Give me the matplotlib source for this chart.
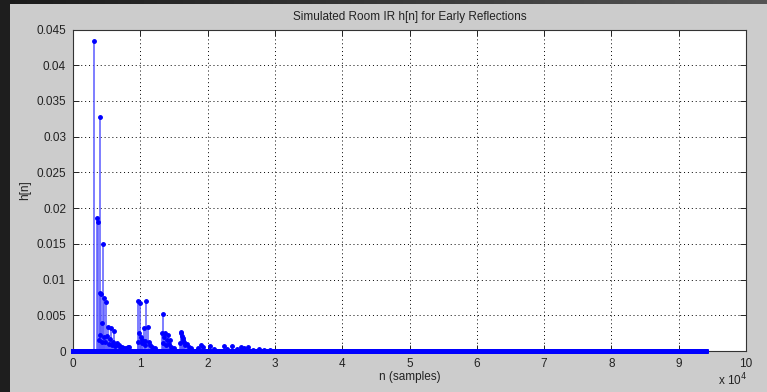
import numpy as np
import matplotlib.pyplot as plt

# impulse response length (samples) and the early reflections (sample index, amplitude)
n_len = 94000
refl_n = [3120, 3120, 3566, 3566, 3670, 4012, 4057, 4200, 4260, 4458, 4651, 4651,
          4903, 5150, 5150, 5646, 5646, 6140, 6140, 6600, 6900, 7300, 8130, 8260,
          3800, 3950, 4350, 4550, 4800, 5000, 5300, 5450, 5800, 5950, 6300, 6450, 7000, 7600, 7900,
          9610, 9610, 9955, 9955, 10500, 10900, 11100, 11100, 10200, 10050,
          9700, 9800, 10300, 10650, 10750, 11300, 11500, 11800, 12200,
          13180, 13370, 13670, 14070, 14370, 13900,
          13300, 13500, 13800, 14200, 14600, 15000,
          16050, 16000, 16300, 16500, 16700, 17200,
          15850, 16150, 16400, 16900, 17500,
          19020, 19300, 20400, 22480, 23580, 24960, 26050, 27690, 29200,
          18600, 21000, 22900, 24300, 25400, 26800, 28400]
refl_h = [0.04337, 0.02148, 0.01863, 0.0092, 0.01799, 0.0328, 0.00815, 0.0080, 0.00387, 0.01495,
          0.00736, 0.0036, 0.00689, 0.0034, 0.00154, 0.00317, 0.0015, 0.0028, 0.0014, 0.0011,
          0.0008, 0.0006, 0.0006, 0.0005,
          0.0016, 0.0022, 0.0012, 0.0019, 0.0013, 0.0021, 0.0010, 0.0017, 0.0009, 0.0012, 0.0007, 0.0009, 0.0006, 0.0004, 0.0004,
          0.00699, 0.0033, 0.00667, 0.0032, 0.00326, 0.00699, 0.0034, 0.0020, 0.0015, 0.0020,
          0.0012, 0.0025, 0.0011, 0.0014, 0.0009, 0.0012, 0.0008, 0.0006, 0.0004,
          0.00256, 0.00517, 0.0025, 0.00224, 0.0015, 0.0015,
          0.0011, 0.0019, 0.0009, 0.0010, 0.0006, 0.0004,
          0.0027, 0.0025, 0.00177, 0.0013, 0.0008, 0.0005,
          0.0011, 0.0021, 0.0016, 0.0010, 0.0004,
          0.00084, 0.0005, 0.0007, 0.0007, 0.0007, 0.0005, 0.0006, 0.0003, 0.0002,
          0.0004, 0.0003, 0.0003, 0.0003, 0.0004, 0.0002, 0.0002]

h = np.zeros(n_len)
for k, v in zip(refl_n, refl_h):
    h[k] = max(h[k], v)
n = np.arange(n_len)

plt.rcParams['font.family'] = ['Liberation Sans', 'DejaVu Sans']
fig = plt.figure(figsize=(7.67, 3.92), dpi=100, facecolor='#cccccc')

# dark window frame strips
frame = fig.add_axes([0, 0, 1, 1], zorder=-1)
frame.set_xlim(0, 767)
frame.set_ylim(392, 0)
frame.axis('off')
frame.add_patch(plt.Rectangle((0, 0), 10, 392, color='#1e1e1e', lw=0))
grad = np.linspace(0, 1, 256)[None, :]
frame.imshow(grad, extent=(0, 767, 4, 0), cmap=plt.matplotlib.colors.LinearSegmentedColormap.from_list(
    'bar', ['#1a1a1a', '#555555']), aspect='auto')

ax = fig.add_axes([73 / 767, 1 - 351 / 392, 673 / 767, 321.5 / 392])
ax.set_facecolor('white')

# stems drawn only where nonzero, markers for every sample
nz = h > 0
ax.vlines(n[nz], 0, h[nz], color='#5a5aff', linewidth=1.1, zorder=2)
ax.plot(n[nz], h[nz], linestyle='none', marker='.', markersize=5, color='#0000ff', zorder=3)
# zero-valued samples pile up into a solid band along the baseline
ax.plot(n[~nz], h[~nz], linestyle='none', marker='.', markersize=5, color='#0000ff',
        zorder=4, clip_on=False)

ax.set_xlim(0, 100000)
ax.set_ylim(0, 0.045)
ax.set_xticks(np.arange(0, 100001, 10000))
ax.set_xticklabels([str(i) for i in range(11)])
yt = np.arange(0, 0.0451, 0.005)
ax.set_yticks(yt)
ax.set_yticklabels(['0'] + ['%g' % round(v, 3) for v in yt[1:]])
ax.grid(True, color='black', linestyle=(0, (1, 3)), linewidth=0.7)
ax.tick_params(direction='in', top=True, right=True, length=4, labelsize=8.5,
               colors='#222222', width=0.7, pad=5)
for s in ax.spines.values():
    s.set_color('#333333')
    s.set_linewidth(0.8)

ax.set_title('Simulated Room IR h[n] for Early Reflections', fontsize=8.5, color='#222222', pad=7)
ax.set_xlabel('n (samples)', fontsize=8.5, color='#222222', labelpad=1)
ax.set_ylabel('h[n]', fontsize=8.5, color='#222222', labelpad=4)
fig.text(718 / 767, 1 - 385 / 392, r'x 10$^4$', fontsize=8.5, color='#222222')

fig.savefig('out.png', dpi=100, facecolor=fig.get_facecolor())
